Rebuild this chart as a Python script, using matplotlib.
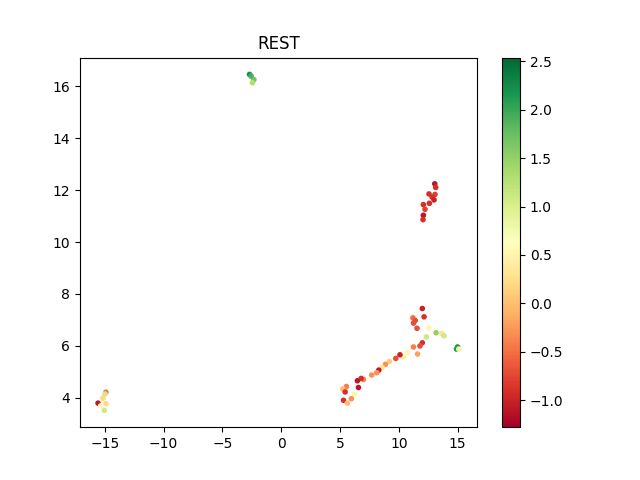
import matplotlib
matplotlib.use('Agg')
import matplotlib.pyplot as plt

# embedding coordinates and score per point
xs = [12.0, 12.15, 11.2, 11.4, 11.25, 11.55, 12.55, 13.17, 13.65, 13.85,
      12.35, 12.0, 11.8, 11.25, 11.6, 15.0, 14.9, 15.1, 10.7, 10.4,
      10.1, 9.75, 9.2, 8.86, 8.58, 8.3, 8.13, 7.7, 7.0, 6.8,
      6.48, 6.57, 5.55, 5.24, 5.44, 6.23, 5.97, 5.3, 5.63,
      13.06, 13.14, 12.57, 13.08, 12.83, 13.0, 12.6, 12.09, 12.23, 12.09, 12.06,
      -14.9, -14.98, -15.15, -15.57, -15.35, -14.9, -15.04,
      -2.69, -2.55, -2.32, -2.44]
ys = [7.44, 7.12, 7.08, 6.98, 6.88, 6.68, 6.69, 6.51, 6.48, 6.39,
      6.35, 6.12, 6.0, 5.96, 5.69, 5.96, 5.88, 5.88, 5.76, 5.58,
      5.66, 5.52, 5.40, 5.29, 5.17, 5.07, 4.97, 4.88, 4.71, 4.75,
      4.66, 4.40, 4.44, 4.34, 4.23, 4.14, 3.97, 3.91, 3.80,
      12.24, 12.10, 11.85, 11.83, 11.73, 11.62, 11.49, 11.44, 11.26, 11.03, 10.86,
      4.22, 4.15, 3.99, 3.80, 3.69, 3.78, 3.52,
      16.45, 16.38, 16.25, 16.13]
vals = [-1.0, -0.9, -0.5, -0.7, -0.7, -0.7, 0.5, 1.5, 0.3, 1.1,
        1.1, -0.9, -0.7, -0.4, -0.2, 2.2, 2.1, 0.8, 0.5, 0.4,
        -1.0, -0.7, 0.1, -0.3, 0.3, -1.1, -0.3, -0.3, -0.4, -0.9,
        -1.1, -1.1, -0.4, 0.0, -0.9, 0.5, -0.3, -0.9, 0.0,
        -1.1, -0.9, -0.9, -0.8, -0.9, -1.0, -0.9, -0.9, -0.8, -1.1, -0.9,
        -0.5, 1.1, 0.2, -1.1, 0.6, 0.2, 1.1,
        2.2, 1.9, 1.7, 1.3]

fig = plt.figure(figsize=(6.4, 4.8), dpi=100)
sc = plt.scatter(xs, ys, c=vals, cmap='RdYlGn', s=9, vmin=-1.28, vmax=2.54)
plt.colorbar(sc)
plt.title('REST')
plt.savefig('out.png')
